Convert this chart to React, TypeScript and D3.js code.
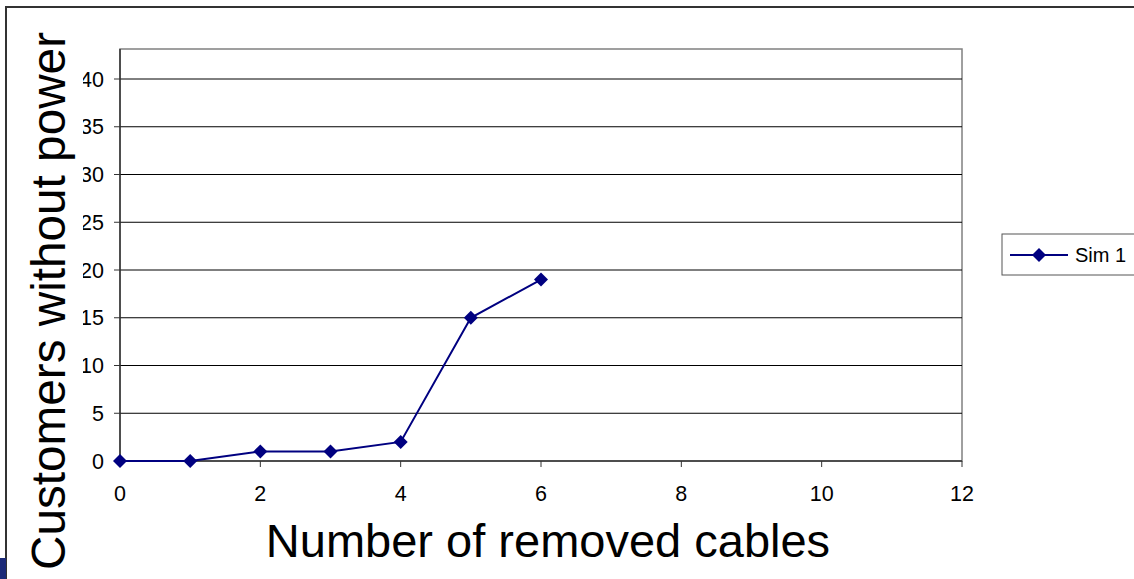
import React from "react";
import * as d3 from "d3";

// Series data: customers without power vs. number of removed cables
const cablesRemoved = [0, 1, 2, 3, 4, 5, 6];
const customersOut = [0, 0, 1, 1, 2, 15, 19];
const xTicks = [0, 2, 4, 6, 8, 10, 12];
const yTicks = [0, 5, 10, 15, 20, 25, 30, 35, 40];
const seriesName = "Sim 1";
const xTitle = "Number of removed cables";
const yTitle = "Customers without power";

const W = 1134;
const H = 579;
const plot = { left: 120, right: 962, top: 49, bottom: 461 };
const NAVY = "#000080";
const FONT = "'Liberation Sans', Arial, sans-serif";

function diamond(cx: number, cy: number, r: number) {
  return `M${cx},${cy - r}L${cx + r},${cy}L${cx},${cy + r}L${cx - r},${cy}Z`;
}

export default function App() {
  const x = d3.scaleLinear().domain([0, 12]).range([plot.left, plot.right]);
  const y = d3
    .scaleLinear()
    .domain([0, 40])
    .range([plot.bottom, 79]);

  const line = d3
    .line<number>()
    .x((_, i) => x(cablesRemoved[i]))
    .y((d) => y(d));

  return (
    <svg
      width={W}
      height={H}
      style={{ position: "absolute", left: 0, top: 0, display: "block", background: "#fff" }}
      fontFamily={FONT}
    >
      {/* outer chart frame */}
      <rect x={6} y={7} width={W + 10} height={H + 10} fill="#fff" stroke="#333" strokeWidth={2} />
      <rect x={0} y={558} width={6} height={21} fill="#1c2a78" />

      {/* plot area border */}
      <rect
        x={plot.left}
        y={plot.top}
        width={plot.right - plot.left}
        height={plot.bottom - plot.top}
        fill="#fff"
        stroke="#808080"
        strokeWidth={1.5}
      />

      {/* horizontal gridlines and y tick marks */}
      {yTicks.map((t) => (
        <g key={t}>
          {t > 0 && (
            <line x1={plot.left} x2={plot.right} y1={y(t)} y2={y(t)} stroke="#000" strokeWidth={1} />
          )}
          <line x1={plot.left - 6} x2={plot.left} y1={y(t)} y2={y(t)} stroke="#333" strokeWidth={1} />
          <text x={104} y={y(t)} dy="0.36em" textAnchor="end" fontSize={21.5} fill="#000">
            {t}
          </text>
        </g>
      ))}

      {/* axes */}
      <line x1={plot.left} x2={plot.left} y1={plot.top} y2={plot.bottom} stroke="#333" strokeWidth={1.5} />
      <line x1={plot.left} x2={plot.right} y1={plot.bottom} y2={plot.bottom} stroke="#333" strokeWidth={1.5} />
      {xTicks.map((t) => (
        <g key={t}>
          <line x1={x(t)} x2={x(t)} y1={plot.bottom} y2={plot.bottom + 6} stroke="#333" strokeWidth={1} />
          <text x={x(t)} y={493} dy="0.36em" textAnchor="middle" fontSize={21.5} fill="#000">
            {t}
          </text>
        </g>
      ))}

      {/* series */}
      <path d={line(customersOut) || ""} fill="none" stroke={NAVY} strokeWidth={2} />
      {customersOut.map((v, i) => (
        <path key={i} d={diamond(x(cablesRemoved[i]), y(v), 7)} fill={NAVY} />
      ))}

      {/* y axis title on white box, overlapping the tick labels */}
      <rect x={22} y={26} width={61} height={545} fill="#fff" />
      <text
        transform={`translate(65, 301) rotate(-90)`}
        textAnchor="middle"
        fontSize={47.7}
        fill="#000"
      >
        {yTitle}
      </text>

      {/* x axis title */}
      <text x={548} y={557} textAnchor="middle" fontSize={47} fill="#000">
        {xTitle}
      </text>

      {/* legend */}
      <rect x={1002} y={234} width={150} height={41} fill="#fff" stroke="#555" strokeWidth={1} />
      <line x1={1010} x2={1068} y1={255} y2={255} stroke={NAVY} strokeWidth={2} />
      <path d={diamond(1039, 255, 7)} fill={NAVY} />
      <text x={1075} y={255} dy="0.36em" fontSize={20} fill="#000">
        {seriesName}
      </text>
    </svg>
  );
}
